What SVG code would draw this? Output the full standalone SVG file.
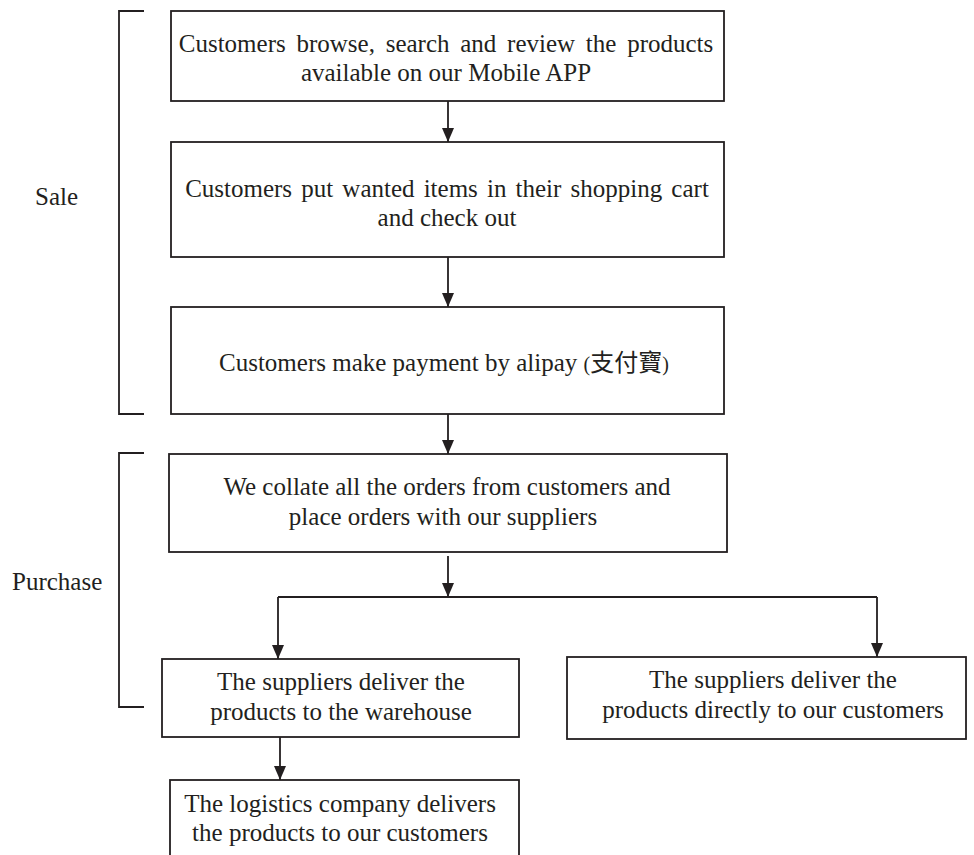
<svg xmlns="http://www.w3.org/2000/svg" width="974" height="855" viewBox="0 0 974 855">
  <style>
    .box { fill: #ffffff; stroke: #231f20; stroke-width: 1.8; }
    .br { fill: none; stroke: #231f20; stroke-width: 1.8; }
    .ln { fill: none; stroke: #231f20; stroke-width: 1.8; }
    .t { font-family: "Liberation Serif", "Times New Roman", "Noto Sans CJK TC", serif; font-size: 25px; fill: #231f20; text-anchor: middle; }
    .lbl { font-family: "Liberation Serif", "Times New Roman", serif; font-size: 25px; fill: #231f20; }
  </style>
  <defs>
    <marker id="ah" viewBox="0 0 14 12" markerWidth="14" markerHeight="12" refX="14" refY="6" orient="auto" markerUnits="userSpaceOnUse">
      <path d="M0,0 L14,6 L0,12 z" fill="#231f20"/>
    </marker>
  </defs>
  <rect width="974" height="855" fill="#ffffff"/>

  <!-- stage brackets -->
  <g id="sale">
    <path class="br" d="M144,11 H119 V414 H144"/>
    <text class="lbl" x="35" y="205">Sale</text>
  </g>
  <g id="purchase">
    <path class="br" d="M144,453 H119 V707 H144"/>
    <text class="lbl" x="12" y="590">Purchase</text>
  </g>

  <!-- process steps -->
  <g id="browse">
    <rect class="box" x="171" y="11" width="553" height="90"/>
    <text class="t" x="446" y="52" word-spacing="4.5">Customers browse, search and review the products</text>
    <text class="t" x="446" y="81">available on our Mobile APP</text>
  </g>
  <g id="cart">
    <rect class="box" x="171" y="142" width="553" height="115"/>
    <text class="t" x="447" y="197" word-spacing="2.9">Customers put wanted items in their shopping cart</text>
    <text class="t" x="447" y="226">and check out</text>
  </g>
  <g id="payment">
    <rect class="box" x="171" y="307" width="553" height="107"/>
    <text class="t" x="219" y="371" style="text-anchor:start">Customers make payment by alipay <tspan font-size="20">(</tspan><tspan font-family="'Noto Sans CJK TC', sans-serif" font-size="24">支付寶</tspan><tspan font-size="20">)</tspan></text>
  </g>
  <g id="collate">
    <rect class="box" x="169" y="454" width="558" height="98"/>
    <text class="t" x="447" y="495">We collate all the orders from customers and</text>
    <text class="t" x="443" y="525">place orders with our suppliers</text>
  </g>
  <g id="warehouse">
    <rect class="box" x="162" y="659" width="357" height="78"/>
    <text class="t" x="341" y="690">The suppliers deliver the</text>
    <text class="t" x="341" y="720">products to the warehouse</text>
  </g>
  <g id="direct">
    <rect class="box" x="567" y="657" width="399" height="82"/>
    <text class="t" x="773" y="688">The suppliers deliver the</text>
    <text class="t" x="773" y="718">products directly to our customers</text>
  </g>
  <g id="logistics">
    <rect class="box" x="170" y="780" width="349" height="90"/>
    <text class="t" x="340" y="812">The logistics company delivers</text>
    <text class="t" x="340" y="841">the products to our customers</text>
  </g>

  <!-- connectors -->
  <g id="connectors">
    <path class="ln" d="M448,101 V142" marker-end="url(#ah)"/>
    <path class="ln" d="M448,257 V307" marker-end="url(#ah)"/>
    <path class="ln" d="M448,414 V454" marker-end="url(#ah)"/>
    <path class="ln" d="M448,556 V597" marker-end="url(#ah)"/>
    <path class="ln" d="M877,597 H278"/>
    <path class="ln" d="M278,597 V659" marker-end="url(#ah)"/>
    <path class="ln" d="M877,597 V657" marker-end="url(#ah)"/>
    <path class="ln" d="M280,737 V780" marker-end="url(#ah)"/>
  </g>
</svg>
